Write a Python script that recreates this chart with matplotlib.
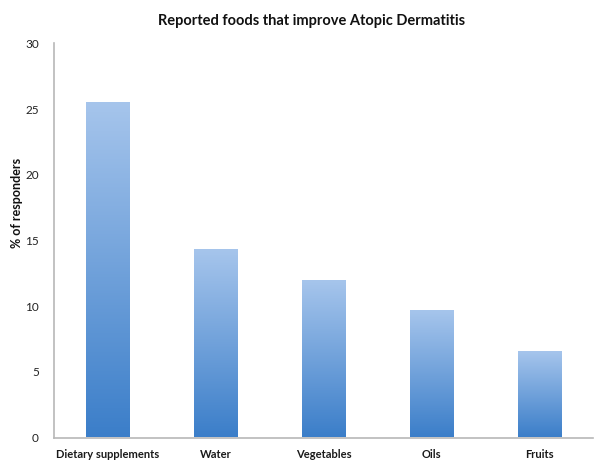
import numpy as np
import matplotlib
matplotlib.use("Agg")
import matplotlib.pyplot as plt
from matplotlib.colors import LinearSegmentedColormap

plt.rcParams['font.family'] = ['Lato', 'DejaVu Sans']

foods = ["Dietary supplements", "Water", "Vegetables", "Oils", "Fruits"]
percent = [25.5, 14.3, 11.9, 9.6, 6.5]
yticks = [0, 5, 10, 15, 20, 25, 30]

# light top -> darker bottom, one gradient per bar
grad_cmap = LinearSegmentedColormap.from_list("barfill", ["#3b7ec9", "#a6c5ec"])

fig = plt.figure(figsize=(6.04, 4.67), dpi=100)
ax = fig.add_axes([54 / 604, 29.5 / 467, 539 / 604, 394 / 467])

x = np.arange(len(foods))
bars = ax.bar(x, percent, width=0.4, color="none", edgecolor="none")
grad = np.linspace(0, 1, 256).reshape(-1, 1)
for b in bars:
    x0, y0 = b.get_x(), b.get_y()
    ax.imshow(grad, cmap=grad_cmap, origin="lower", aspect="auto",
              extent=(x0, x0 + b.get_width(), y0, y0 + b.get_height()),
              interpolation="bicubic", zorder=2)

ax.set_xlim(-0.5, len(foods) - 0.5)
ax.set_ylim(0, 30)
ax.set_yticks(yticks)
ax.set_xticks(x)
ax.set_xticklabels(foods, fontsize=8, fontweight="bold", color="#1a1a1a")
ax.tick_params(axis="y", length=0, pad=11, labelsize=8.5, labelcolor="#222222")
ax.tick_params(axis="x", length=0, pad=8)

for side in ["top", "right"]:
    ax.spines[side].set_visible(False)
for side in ["left", "bottom"]:
    ax.spines[side].set_color("#b8b8b8")
    ax.spines[side].set_linewidth(1.2)

ax.set_ylabel("% of responders", fontsize=9, fontweight="bold", color="#111111")
ax.yaxis.set_label_coords(-0.058, 0.595)

fig.text(312 / 604, 1 - 21 / 467, "Reported foods that improve Atopic Dermatitis",
         ha="center", va="center", fontsize=10.5, fontweight="bold", color="#111111")

fig.savefig("out.png", dpi=100)
